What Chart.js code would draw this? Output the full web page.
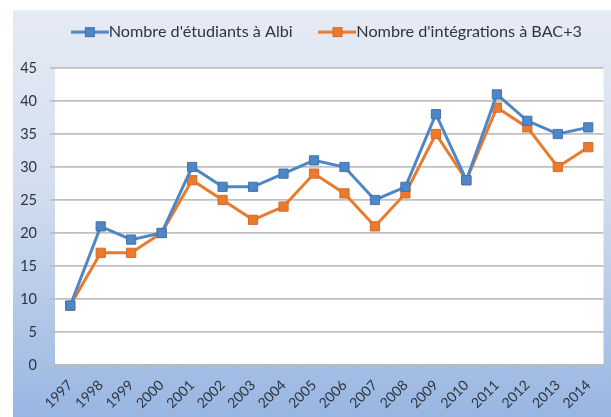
<!DOCTYPE html>
<html>
<head>
<meta charset="utf-8">
<script src="https://cdn.jsdelivr.net/npm/chart.js@4/dist/chart.umd.min.js"></script>
<style>
html,body{margin:0;padding:0;background:#fff;}
#wrap{width:611px;height:417px;position:relative;}
</style>
</head>
<body>
<div id="wrap"><canvas id="c" width="611" height="417"></canvas></div>
<script>
const years = ['1997','1998','1999','2000','2001','2002','2003','2004','2005','2006','2007','2008','2009','2010','2011','2012','2013','2014'];
const etudiantsAlbi = [9,21,19,20,30,27,27,29,31,30,25,27,38,28,41,37,35,36];
const integrationsBac3 = [9,17,17,20,28,25,22,24,29,26,21,26,35,28,39,36,30,33];
const seriesNames = ["Nombre d'étudiants à Albi", "Nombre d'intégrations à BAC+3"];
const yTicks = [0,5,10,15,20,25,30,35,40,45];

const BLUE = '#4f86c6';
const BLUE_EDGE = '#3f72b0';
const ORANGE = '#ec7a2c';
const ORANGE_EDGE = '#d8682a';
const FONT = 'Lato, "Open Sans", sans-serif';
const TEXT = '#2e3440';
const LEG_SIZE = 16.2;
const BOXW = 21.5;

function legendIcon(color, edge){
  const W = Math.round(BOXW + LEG_SIZE);
  const c = document.createElement('canvas');
  c.width = W; c.height = 12;
  const g = c.getContext('2d');
  g.strokeStyle = color; g.lineWidth = 3;
  g.beginPath(); g.moveTo(0,6); g.lineTo(W,6); g.stroke();
  const cx = W/2;
  g.fillStyle = color; g.fillRect(cx-5,1,10,10);
  g.strokeStyle = edge; g.lineWidth = 1; g.strokeRect(cx-4.5,1.5,9,9);
  return c;
}
const icons = [legendIcon(BLUE, BLUE_EDGE), legendIcon(ORANGE, ORANGE_EDGE)];

const bgPlugin = {
  id: 'bg',
  beforeDraw(chart){
    const ctx = chart.ctx;
    ctx.save();
    const grad = ctx.createLinearGradient(0,10,0,417);
    grad.addColorStop(0,'#e6ebf4');
    grad.addColorStop(0.45,'#d2ddef');
    grad.addColorStop(1,'#98b6e2');
    ctx.fillStyle = grad;
    ctx.fillRect(13,10,611-13,417-10);
    const a = chart.chartArea;
    ctx.fillStyle = '#ffffff';
    ctx.fillRect(a.left, a.top, a.right-a.left, a.bottom-a.top);
    ctx.restore();
  }
};
const legendFix = {
  id: 'legendFix',
  beforeInit(chart){
    const fit = chart.legend.fit;
    chart.legend.fit = function(){ fit.bind(chart.legend)(); this.height = 58; };
  },
  afterLayout(chart){
    const l = chart.legend;
    l.left += 19; l.right += 19;
    l.top -= 20;
  }
};

new Chart(document.getElementById('c'), {
  type: 'line',
  data: {
    labels: years,
    datasets: [
      {label: seriesNames[0], data: etudiantsAlbi, borderColor: BLUE, backgroundColor: BLUE,
       pointBorderColor: BLUE_EDGE, pointStyle: 'rect', pointRadius: 6.5, pointBorderWidth: 1,
       borderWidth: 3, tension: 0},
      {label: seriesNames[1], data: integrationsBac3, borderColor: ORANGE, backgroundColor: ORANGE,
       pointBorderColor: ORANGE_EDGE, pointStyle: 'rect', pointRadius: 6.5, pointBorderWidth: 1,
       borderWidth: 3, tension: 0}
    ]
  },
  options: {
    responsive: false,
    animation: false,
    layout: {padding: {left: 13, top: 10, right: 1, bottom: 0}},
    plugins: {
      legend: {
        position: 'top',
        labels: {
          usePointStyle: true,
          pointStyleWidth: BOXW,
          padding: 34,
          color: TEXT,
          font: {family: FONT, size: LEG_SIZE},
          generateLabels(chart){
            return chart.data.datasets.map((d,i)=>({
              text: d.label, pointStyle: icons[i], fillStyle: d.borderColor,
              strokeStyle: d.borderColor, lineWidth: 0, hidden: false, datasetIndex: i, fontColor: TEXT
            }));
          }
        }
      },
      tooltip: {enabled: false}
    },
    scales: {
      x: {
        offset: true,
        afterFit(s){ s.height = 52; },
        grid: {drawOnChartArea: false, drawTicks: true, tickLength: 5, color: '#a9b3c4', offset: true},
        border: {color: '#b8b8b8', width: 1.5},
        ticks: {maxRotation: 45, minRotation: 45, autoSkip: false, color: TEXT, padding: 7,
                font: {family: FONT, size: 14}}
      },
      y: {
        min: 0, max: 45,
        afterFit(s){ s.width = 42; },
        afterBuildTicks(s){ s.ticks = yTicks.map(v=>({value:v})); },
        grid: {color: '#bfbfbf', lineWidth: 1.8, tickLength: 5},
        border: {display: false},
        ticks: {color: TEXT, padding: 13, font: {family: FONT, size: 14.5}}
      }
    }
  },
  plugins: [bgPlugin, legendFix]
});
</script>
</body>
</html>
